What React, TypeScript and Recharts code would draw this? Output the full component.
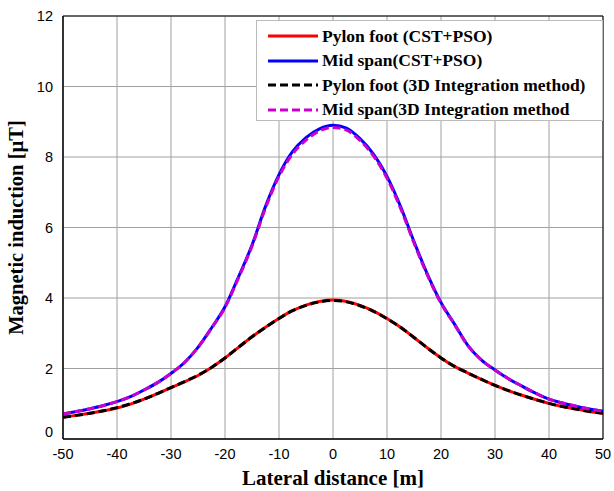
import { LineChart, Line, XAxis, YAxis, CartesianGrid, ReferenceArea, Legend } from "recharts";

const distance = [
  -50, -47.5, -45, -42.5, -40, -37.5, -35, -32.5, -30, -27.5, -25, -22.5, -20, -17.5, -15, -12.5, -10, -7.5, -5, -2.5,
  0, 2.5, 5, 7.5, 10, 12.5, 15, 17.5, 20, 22.5, 25, 27.5, 30, 32.5, 35, 37.5, 40, 42.5, 45, 47.5, 50,
];

const pylonCst = [
  0.62, 0.67, 0.73, 0.8, 0.88, 0.99, 1.13, 1.29, 1.46, 1.62, 1.8, 2.03, 2.3, 2.6, 2.9, 3.17, 3.42, 3.64, 3.8, 3.9,
  3.94, 3.9, 3.79, 3.63, 3.42, 3.17, 2.88, 2.58, 2.3, 2.06, 1.87, 1.69, 1.52, 1.37, 1.24, 1.12, 1.01, 0.92, 0.85, 0.78, 0.73,
];

const midCst = [
  0.71, 0.78, 0.86, 0.95, 1.06, 1.2, 1.39, 1.6, 1.86, 2.17, 2.6, 3.15, 3.75, 4.6, 5.5, 6.6, 7.5, 8.15, 8.55, 8.8,
  8.9, 8.82, 8.52, 8.08, 7.45, 6.6, 5.6, 4.67, 3.87, 3.26, 2.65, 2.24, 1.96, 1.71, 1.5, 1.3, 1.13, 1.02, 0.93, 0.85, 0.79,
];

const pylonInt = [
  0.62, 0.67, 0.73, 0.8, 0.89, 1.0, 1.13, 1.29, 1.46, 1.63, 1.81, 2.03, 2.3, 2.6, 2.9, 3.17, 3.42, 3.64, 3.79, 3.89,
  3.93, 3.89, 3.78, 3.62, 3.41, 3.17, 2.88, 2.58, 2.3, 2.06, 1.87, 1.69, 1.52, 1.37, 1.24, 1.12, 1.01, 0.92, 0.85, 0.78, 0.73,
];

const midInt = [
  0.71, 0.78, 0.86, 0.95, 1.06, 1.2, 1.39, 1.6, 1.86, 2.17, 2.6, 3.14, 3.73, 4.57, 5.47, 6.55, 7.45, 8.08, 8.48, 8.74,
  8.84, 8.76, 8.47, 8.03, 7.4, 6.55, 5.56, 4.64, 3.85, 3.25, 2.64, 2.24, 1.96, 1.71, 1.5, 1.3, 1.13, 1.02, 0.93, 0.85, 0.79,
];

const xTicks = [-50, -40, -30, -20, -10, 0, 10, 20, 30, 40, 50];
const yTicks = [0, 2, 4, 6, 8, 10, 12];

const series = [
  { key: "pylonCst", name: "Pylon foot (CST+PSO)", color: "#ff0000", dash: undefined },
  { key: "midCst", name: "Mid span(CST+PSO)", color: "#0000ff", dash: undefined },
  { key: "pylonInt", name: "Pylon foot (3D Integration method)", color: "#000000", dash: "8 4" },
  { key: "midInt", name: "Mid span(3D Integration method", color: "#cc00cc", dash: "8 4" },
];

const data = distance.map((x, i) => ({
  x,
  pylonCst: pylonCst[i],
  midCst: midCst[i],
  pylonInt: pylonInt[i],
  midInt: midInt[i],
}));

const tickFont = "Liberation Sans, Arial, sans-serif";
const labelFont = "Liberation Serif, Times New Roman, serif";

function YTick(props: any) {
  const { x, y, payload } = props;
  // the zero label sits a little above its gridline, as in the original
  const shift = payload.value === 0 ? -7 : 0;
  return (
    <text x={x - 2} y={y + shift} dy="0.35em" textAnchor="end" fill="#000" fontSize={14.5} fontFamily={tickFont}>
      {payload.value}
    </text>
  );
}

function LegendBox() {
  return (
    <div
      style={{
        background: "#fff",
        border: "1px solid #bbb",
        boxSizing: "border-box",
        padding: "3px 0 0 10px",
        width: 347,
        height: 101,
        fontFamily: labelFont,
        fontWeight: "bold",
        fontSize: 17.5,
        color: "#000",
        textAlign: "left",
      }}
    >
      {series.map((s) => (
        <div key={s.key} style={{ display: "flex", alignItems: "center", height: 24.5 }}>
          <svg width={52} height={10} style={{ marginRight: 3 }}>
            <line x1={1} y1={5} x2={51} y2={5} stroke={s.color} strokeWidth={3} strokeDasharray={s.dash} />
          </svg>
          <span style={{ whiteSpace: "nowrap" }}>{s.name}</span>
        </div>
      ))}
    </div>
  );
}

export default function App() {
  return (
    <div style={{ position: "absolute", left: 0, top: 0, background: "#fff" }}>
      <LineChart width={614} height={491} data={data} margin={{ top: 16, right: 11, bottom: 0, left: 0 }}>
        <CartesianGrid stroke="#a0a0a0" strokeWidth={1} />
        <XAxis
          dataKey="x"
          type="number"
          domain={[-50, 50]}
          ticks={xTicks}
          height={52}
          tick={{ fill: "#000", fontSize: 14.5, fontFamily: tickFont }}
          tickLine={false}
          tickMargin={4}
          axisLine={{ stroke: "#000" }}
          label={{
            value: "Lateral distance [m]",
            position: "insideBottom",
            offset: 6,
            style: { fill: "#000", fontFamily: labelFont, fontWeight: "bold", fontSize: 21 },
          }}
        />
        <YAxis
          type="number"
          domain={[0, 12]}
          ticks={yTicks}
          width={63}
          tick={<YTick />}
          tickLine={false}
          axisLine={{ stroke: "#000" }}
          label={{
            value: "Magnetic induction [\u00b5T]",
            angle: -90,
            position: "insideLeft",
            offset: 16,
            style: { fill: "#000", fontFamily: labelFont, fontWeight: "bold", fontSize: 20.5, textAnchor: "middle" },
          }}
        />
        <ReferenceArea x1={-50} x2={50} y1={0} y2={12} fill="none" stroke="#000" strokeWidth={1} ifOverflow="visible" />
        {series.map((s) => (
          <Line
            key={s.key}
            type="monotone"
            dataKey={s.key}
            name={s.name}
            stroke={s.color}
            strokeWidth={3}
            strokeDasharray={s.dash}
            dot={false}
            isAnimationActive={false}
          />
        ))}
        <Legend
          layout="horizontal"
          verticalAlign="middle"
          align="center"
          content={() => <LegendBox />}
          wrapperStyle={{ top: 20, left: 256, width: 347 }}
        />
      </LineChart>
    </div>
  );
}
